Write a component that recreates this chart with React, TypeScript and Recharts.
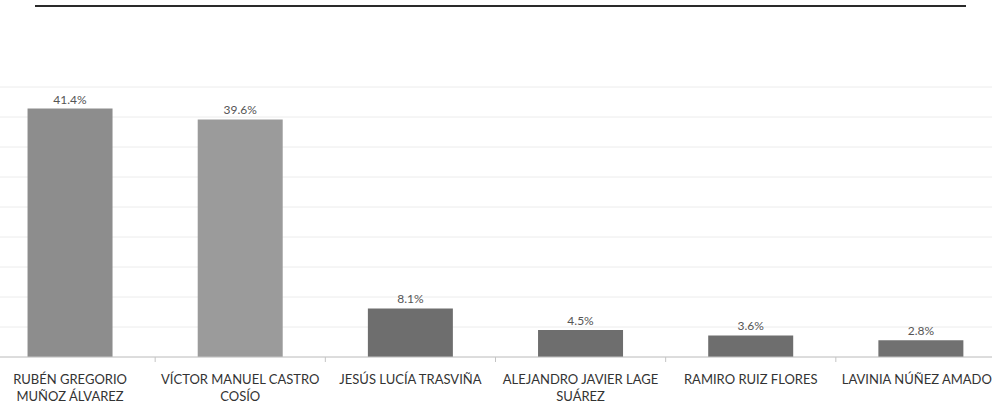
import React from 'react';
import { BarChart, Bar, XAxis, YAxis, CartesianGrid, LabelList, Cell } from 'recharts';

// candidate names, already split the way the original wraps them
const nameLines: string[][] = [
  ['RUBÉN GREGORIO', 'MUÑOZ ÁLVAREZ'],
  ['VÍCTOR MANUEL CASTRO', 'COSÍO'],
  ['JESÚS LUCÍA TRASVIÑA'],
  ['ALEJANDRO JAVIER LAGE', 'SUÁREZ'],
  ['RAMIRO RUIZ FLORES'],
  ['LAVINIA NÚÑEZ AMADOR'],
];
const candidates = nameLines.map((l) => l.join(' '));
const votePct = [41.4, 39.6, 8.1, 4.5, 3.6, 2.8];
const yTicks = [0, 5, 10, 15, 20, 25, 30, 35, 40, 45];

const barColors = ['#8d8d8d', '#9b9b9b', '#6e6e6e', '#6e6e6e', '#6e6e6e', '#717171'];

const data = candidates.map((name, i) => ({ name, pct: votePct[i], idx: i }));

const CHART_W = 1021;
const BAND = CHART_W / candidates.length;
const FONT = 'Lato, "Liberation Sans", sans-serif';

function NameTick(props: any) {
  const { x, y, payload, index } = props;
  const i = typeof index === 'number' ? index : candidates.indexOf(payload.value);
  const lines = nameLines[i] || [payload.value];
  const axisY = y - 8;
  return (
    <g>
      <line x1={x + BAND / 2} x2={x + BAND / 2} y1={axisY} y2={axisY + 5} stroke="#c4c4c4" />
      <text x={x} y={y + 19} textAnchor="middle" fill="#333" fontSize={13} fontFamily={FONT}>
        {lines.map((l, k) => (
          <tspan key={k} x={x} dy={k === 0 ? 0 : 17}>
            {l}
          </tspan>
        ))}
      </text>
    </g>
  );
}

export default function App() {
  return (
    <div style={{ position: 'fixed', left: 0, top: 0, width: 992, height: 405, overflow: 'hidden', background: '#fff' }}>
      {/* rule above the chart */}
      <div style={{ position: 'absolute', left: 35, top: 5, width: 931, height: 2, background: '#2a2a2a' }} />
      <div style={{ position: 'absolute', left: -15, top: 0 }}>
        <BarChart
          width={CHART_W}
          height={405}
          data={data}
          margin={{ top: 87, right: 0, bottom: 0, left: 0 }}
          barCategoryGap="25%"
        >
          <CartesianGrid horizontal vertical={false} stroke="#ececec" />
          <YAxis hide domain={[0, 45]} ticks={yTicks} />
          <XAxis
            dataKey="name"
            height={48}
            interval={0}
            tickLine={false}
            axisLine={{ stroke: '#c4c4c4' }}
            tick={<NameTick />}
          />
          <Bar dataKey="pct" isAnimationActive={false}>
            {data.map((d) => (
              <Cell key={d.idx} fill={barColors[d.idx]} />
            ))}
            <LabelList
              dataKey="pct"
              position="top"
              offset={5}
              formatter={(v: any) => `${Number(v).toFixed(1)}%`}
              fill="#555"
              fontSize={12}
              fontFamily={FONT}
            />
          </Bar>
        </BarChart>
      </div>
    </div>
  );
}
